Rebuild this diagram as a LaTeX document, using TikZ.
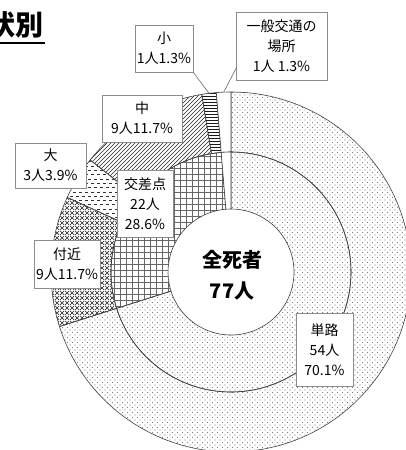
\documentclass[tikz,border=0pt]{standalone}
\usepackage{fontspec}
\setmainfont{Noto Sans CJK JP}
\usetikzlibrary{patterns,calc}

% fill patterns of the slices
\pgfdeclarepatternformonly{fine dots}{\pgfqpoint{-1pt}{-1pt}}{\pgfqpoint{4pt}{4pt}}{\pgfqpoint{5pt}{5pt}}{%
  \pgfpathcircle{\pgfqpoint{0pt}{0pt}}{0.65pt}%
  \pgfpathcircle{\pgfqpoint{2.5pt}{2.5pt}}{0.65pt}%
  \pgfusepath{fill}}
\pgfdeclarepatternformonly{fine grid}{\pgfqpoint{-0.5pt}{-0.5pt}}{\pgfqpoint{6pt}{6pt}}{\pgfqpoint{6pt}{6pt}}{%
  \pgfsetlinewidth{0.55pt}%
  \pgfpathmoveto{\pgfqpoint{0pt}{0pt}}\pgfpathlineto{\pgfqpoint{6pt}{0pt}}%
  \pgfpathmoveto{\pgfqpoint{0pt}{0pt}}\pgfpathlineto{\pgfqpoint{0pt}{6pt}}%
  \pgfusepath{stroke}}
\pgfdeclarepatternformonly{fine cross}{\pgfqpoint{0pt}{0pt}}{\pgfqpoint{5pt}{5pt}}{\pgfqpoint{5pt}{5pt}}{%
  \pgfsetlinewidth{0.7pt}%
  \pgfpathmoveto{\pgfqpoint{0pt}{0pt}}\pgfpathlineto{\pgfqpoint{5pt}{5pt}}%
  \pgfpathmoveto{\pgfqpoint{0pt}{5pt}}\pgfpathlineto{\pgfqpoint{5pt}{0pt}}%
  \pgfusepath{stroke}}
\pgfdeclarepatternformonly{fine ne}{\pgfqpoint{-1pt}{-1pt}}{\pgfqpoint{5pt}{5pt}}{\pgfqpoint{4pt}{4pt}}{%
  \pgfsetlinewidth{0.7pt}%
  \pgfpathmoveto{\pgfqpoint{0pt}{0pt}}\pgfpathlineto{\pgfqpoint{4.1pt}{4.1pt}}%
  \pgfusepath{stroke}}
\pgfdeclarepatternformonly{fine hlines}{\pgfqpoint{0pt}{-0.5pt}}{\pgfqpoint{3pt}{3pt}}{\pgfqpoint{3pt}{3pt}}{%
  \pgfsetlinewidth{0.7pt}%
  \pgfpathmoveto{\pgfqpoint{0pt}{0pt}}\pgfpathlineto{\pgfqpoint{3pt}{0pt}}%
  \pgfusepath{stroke}}
\pgfdeclarepatternformonly{fine dashes}{\pgfqpoint{0pt}{-0.5pt}}{\pgfqpoint{6pt}{8pt}}{\pgfqpoint{6pt}{8.6pt}}{%
  \pgfsetlinewidth{0.8pt}%
  \pgfpathmoveto{\pgfqpoint{0.5pt}{0pt}}\pgfpathlineto{\pgfqpoint{4pt}{0pt}}%
  \pgfpathmoveto{\pgfqpoint{3.5pt}{4.3pt}}\pgfpathlineto{\pgfqpoint{6pt}{4.3pt}}%
  \pgfpathmoveto{\pgfqpoint{0pt}{4.3pt}}\pgfpathlineto{\pgfqpoint{1pt}{4.3pt}}%
  \pgfusepath{stroke}}

% one slice of a ring: start, end, inner radius, outer radius, style
\newcommand{\ringpart}[5]{%
  \draw[#5] ($(ctr)+(#1:#4)$) arc[start angle=#1, end angle=#2, radius=#4]
    -- ($(ctr)+(#2:#3)$) arc[start angle=#2, end angle=#1, radius=#3] -- cycle;}

\tikzset{
  slice/.style={draw=black!75, line width=0.6pt},
  lbl/.style={draw=black!45, line width=0.9pt, fill=white, align=center,
    font=\fontsize{14}{20}\selectfont, inner sep=2pt},
  leader/.style={draw=black!60, line width=0.6pt}
}

\begin{document}
\begin{tikzpicture}[x=1pt,y=1pt]
  \useasboundingbox (0,0) rectangle (405,450);
  \coordinate (ctr) at (231,178);

  % outer ring
  \ringpart{90}{-162.36}{120}{180}{slice,pattern=fine dots,pattern color=black!50}
  \ringpart{-162.36}{-204.48}{120}{180}{slice,pattern=fine cross,pattern color=black!90}
  \ringpart{-204.48}{-218.52}{120}{180}{slice,pattern=fine dashes,pattern color=black!80}
  \ringpart{-218.52}{-260.64}{120}{180}{slice,pattern=fine ne,pattern color=black!85}
  \ringpart{-260.64}{-265.32}{120}{180}{slice,pattern=fine hlines,pattern color=black!90}
  \ringpart{-265.32}{-270}{120}{180}{slice,fill=white}

  % inner ring
  \ringpart{90}{-162.36}{63}{120}{slice,pattern=fine dots,pattern color=black!50}
  \ringpart{-162.36}{-265.32}{63}{120}{slice,pattern=fine grid,pattern color=black!60}
  \ringpart{-265.32}{-270}{63}{120}{slice,fill=white}

  % centre
  \node[align=center, font=\bfseries\fontsize{20}{31}\selectfont] (total) at (232,174.5) {全死者\\77人};

  % labels
  \node[lbl, minimum width=58, minimum height=47] (small) at (164,401.5) {小\\1人1.3\%};
  \node[lbl, minimum width=91, minimum height=68] (ippan) at (281.5,404) {一般交通の\\場所\\1人 1.3\%};
  \node[lbl, minimum width=80, minimum height=47] (mid) at (142,331.5) {中\\9人11.7\%};
  \node[lbl, minimum width=71, minimum height=45] (large) at (50.5,284.5) {大\\3人3.9\%};
  \node[lbl, minimum width=56, minimum height=67] (cross) at (145,246.5) {交差点\\22人\\28.6\%};
  \node[lbl, minimum width=66, minimum height=48] (near) at (67,186) {付近\\9人11.7\%};
  \node[lbl, minimum width=57, minimum height=73] (single) at (324.5,100.5) {単路\\54人\\70.1\%};

  % leader lines
  \coordinate (smallpt) at ($(ctr)+(97.02:180)$);
  \coordinate (ippanpt) at ($(ctr)+(92.34:180)$);
  \draw[leader] (small.south east) -- (smallpt);
  \draw[leader] ($(ippan.south west)+(1,13)$) -- (ippanpt);

  % title, cut at the left edge
  \node[anchor=base east, inner sep=0pt, font=\bfseries\fontsize{28}{28}\selectfont] (title) at (44,414) {状別};
  \draw[line width=2.6pt] ($(title.base west)+(0,-7)$) -- ($(title.base east)+(1,-7)$);
\end{tikzpicture}
\end{document}
